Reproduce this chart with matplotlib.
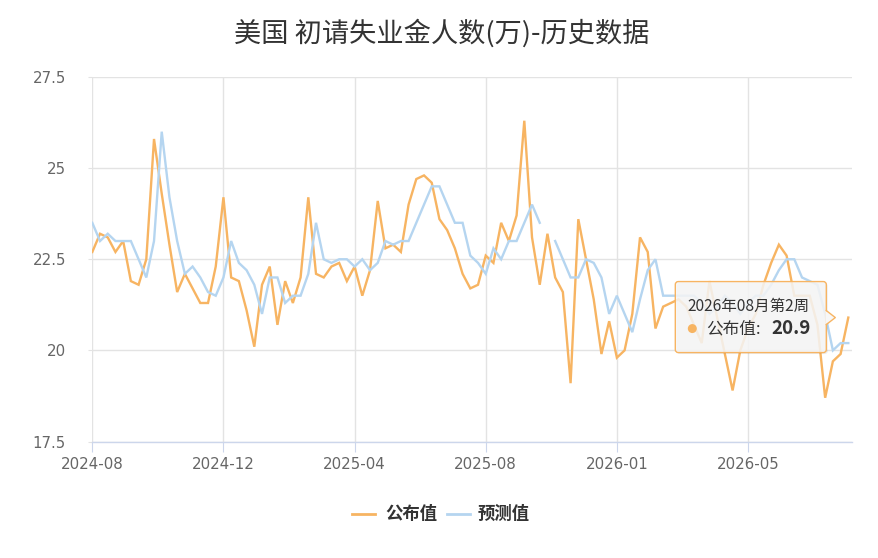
import numpy as np
import matplotlib
matplotlib.use("Agg")
import matplotlib.pyplot as plt
from matplotlib.transforms import IdentityTransform
from matplotlib.patches import FancyBboxPatch, Polygon, Circle
from matplotlib.lines import Line2D

plt.rcParams['font.family'] = ['Noto Sans CJK SC', 'DejaVu Sans']

title = "美国 初请失业金人数(万)-历史数据"
tick_labels = ["2024-08", "2024-12", "2025-04", "2025-08", "2026-01", "2026-05"]
tick_step = 17
series_names = ["公布值", "预测值"]
tooltip_date = "2026年08月第2周"

actual = [
    22.7, 23.2, 23.1, 22.7, 23.0, 21.9, 21.8, 22.5, 25.8, 24.3,
    22.9, 21.6, 22.1, 21.7, 21.3, 21.3, 22.3, 24.2, 22.0, 21.9,
    21.1, 20.1, 21.8, 22.3, 20.7, 21.9, 21.3, 22.0, 24.2, 22.1,
    22.0, 22.3, 22.4, 21.9, 22.3, 21.5, 22.2, 24.1, 22.8, 22.9,
    22.7, 24.0, 24.7, 24.8, 24.6, 23.6, 23.3, 22.8, 22.1, 21.7,
    21.8, 22.6, 22.4, 23.5, 23.0, 23.7, 26.3, 23.1, 21.8, 23.2,
    22.0, 21.6, 19.1, 23.6, 22.5, 21.4, 19.9, 20.8, 19.8, 20.0,
    21.0, 23.1, 22.7, 20.6, 21.2, 21.3, 21.4, 21.2, 20.7, 20.2,
    21.9, 20.9, 19.9, 18.9, 20.0, 20.6, 21.0, 21.8, 22.4, 22.9,
    22.6, 21.5, 21.5, 21.5, 20.7, 18.7, 19.7, 19.9, 20.9,
]
forecast = [
    23.5, 23.0, 23.2, 23.0, 23.0, 23.0, 22.5, 22.0, 23.0, 26.0,
    24.2, 23.0, 22.1, 22.3, 22.0, 21.6, 21.5, 22.0, 23.0, 22.4,
    22.2, 21.8, 21.0, 22.0, 22.0, 21.3, 21.5, 21.5, 22.1, 23.5,
    22.5, 22.4, 22.5, 22.5, 22.3, 22.5, 22.2, 22.4, 23.0, 22.9,
    23.0, 23.0, 23.5, 24.0, 24.5, 24.5, 24.0, 23.5, 23.5, 22.6,
    22.4, 22.1, 22.8, 22.5, 23.0, 23.0, 23.5, 24.0, 23.5, None,
    23.0, 22.5, 22.0, 22.0, 22.5, 22.4, 22.0, 21.0, 21.5, 21.0,
    20.5, 21.4, 22.2, 22.5, 21.5, 21.5, 21.5, 21.5, 21.5, 21.3,
    21.0, 21.2, 21.5, 21.3, 21.0, 21.3, 21.5, 21.5, 21.8, 22.2,
    22.5, 22.5, 22.0, 21.9, 21.8, 21.0, 20.0, 20.2, 20.2,
]

ORANGE = '#f7b462'
BLUE = '#b5d5f0'

W, H, DPI = 879, 558, 100
fig = plt.figure(figsize=(W / DPI, H / DPI), dpi=DPI)
ax = fig.add_axes([92.3 / W, 116.5 / H, 759.4 / W, 364.5 / H])

x = np.arange(len(actual))
a = np.array(actual, dtype=float)
f = np.array([np.nan if v is None else v for v in forecast], dtype=float)

ax.plot(x, a, color=ORANGE, lw=1.7, zorder=3, solid_joinstyle='miter')
ax.plot(x, f, color=BLUE, lw=1.7, zorder=4, solid_joinstyle='miter')

ax.set_xlim(0, len(actual) - 1 + 0.44)
ax.set_ylim(17.5, 27.5)
ax.set_yticks([17.5, 20, 22.5, 25, 27.5])
ax.set_yticklabels(["17.5", "20", "22.5", "25", "27.5"])
tpos = [i * tick_step for i in range(len(tick_labels))]
ax.set_xticks(tpos)
ax.set_xticklabels(tick_labels)
for lab in ax.get_xticklabels() + ax.get_yticklabels():
    lab.set_family(['DejaVu Sans'])

ax.grid(True, color='#e3e3e3', lw=1)
ax.set_axisbelow(True)
for s in ['top', 'right', 'left']:
    ax.spines[s].set_visible(False)
ax.spines['bottom'].set_color('#ccd6eb')
ax.spines['bottom'].set_linewidth(1)
ax.tick_params(axis='x', length=7, color='#ccd6eb', labelsize=10.8, labelcolor='#666666', pad=4.5)
ax.tick_params(axis='y', length=3, color='#e3e3e3', labelsize=10.8, labelcolor='#666666', pad=16)

fig.text(441.5 / W, 1 - 33 / H, title, ha='center', va='center', fontsize=19.6, color='#333333')

# legend
ly = 1 - 514 / H
fig.add_artist(Line2D([352 / W, 375 / W], [ly, ly], color=ORANGE, lw=2, transform=fig.transFigure))
fig.text(385 / W, ly, series_names[0], ha='left', va='center', fontsize=12.5, fontweight='bold', color='#333333')
fig.add_artist(Line2D([447 / W, 470 / W], [ly, ly], color=BLUE, lw=2, transform=fig.transFigure))
fig.text(478 / W, ly, series_names[1], ha='left', va='center', fontsize=12.5, fontweight='bold', color='#333333')

# tooltip anchored to last published point
px, py = ax.transData.transform((x[-1], a[-1]))
tipx, tipy = px - 13, py
bx0, bx1 = tipx - 160, tipx - 9
by0, by1 = tipy - 35, tipy + 36
idt = IdentityTransform()
shadow = FancyBboxPatch((bx0 + 1.5, by0 - 1.5), bx1 - bx0, by1 - by0,
                        boxstyle="round,pad=0,rounding_size=3", transform=idt,
                        facecolor=(0, 0, 0, 0.07), edgecolor='none', zorder=9)
fig.add_artist(shadow)
box = FancyBboxPatch((bx0, by0), bx1 - bx0, by1 - by0,
                     boxstyle="round,pad=0,rounding_size=3", transform=idt,
                     facecolor=(0.97, 0.97, 0.97, 0.86), edgecolor=ORANGE, lw=1, zorder=10)
fig.add_artist(box)
tri = Polygon([(bx1 - 1, tipy + 7), (tipx, tipy), (bx1 - 1, tipy - 7)], closed=True,
              transform=idt, facecolor=(0.97, 0.97, 0.97, 1.0), edgecolor='none', zorder=11)
fig.add_artist(tri)
fig.add_artist(Line2D([bx1, tipx, bx1], [tipy + 7, tipy, tipy - 7], color=ORANGE, lw=1,
                      transform=idt, zorder=12))
fig.text(tipx - 86.5, tipy + 11, tooltip_date, transform=idt, ha='center', va='center',
         fontsize=11.2, color='#333333', zorder=13)
fig.add_artist(Circle((tipx - 143, tipy - 11), 4.5, transform=idt, facecolor=ORANGE,
                      edgecolor='none', zorder=13))
fig.text(tipx - 129, tipy - 11, series_names[0] + ":", transform=idt, ha='left', va='center',
         fontsize=12, color='#333333', zorder=13)
fig.text(tipx - 64, tipy - 11, f"{a[-1]:.1f}", transform=idt, ha='left', va='center',
         fontsize=13.5, fontweight='bold', color='#333333', zorder=13)

fig.savefig('out.png', dpi=DPI)
